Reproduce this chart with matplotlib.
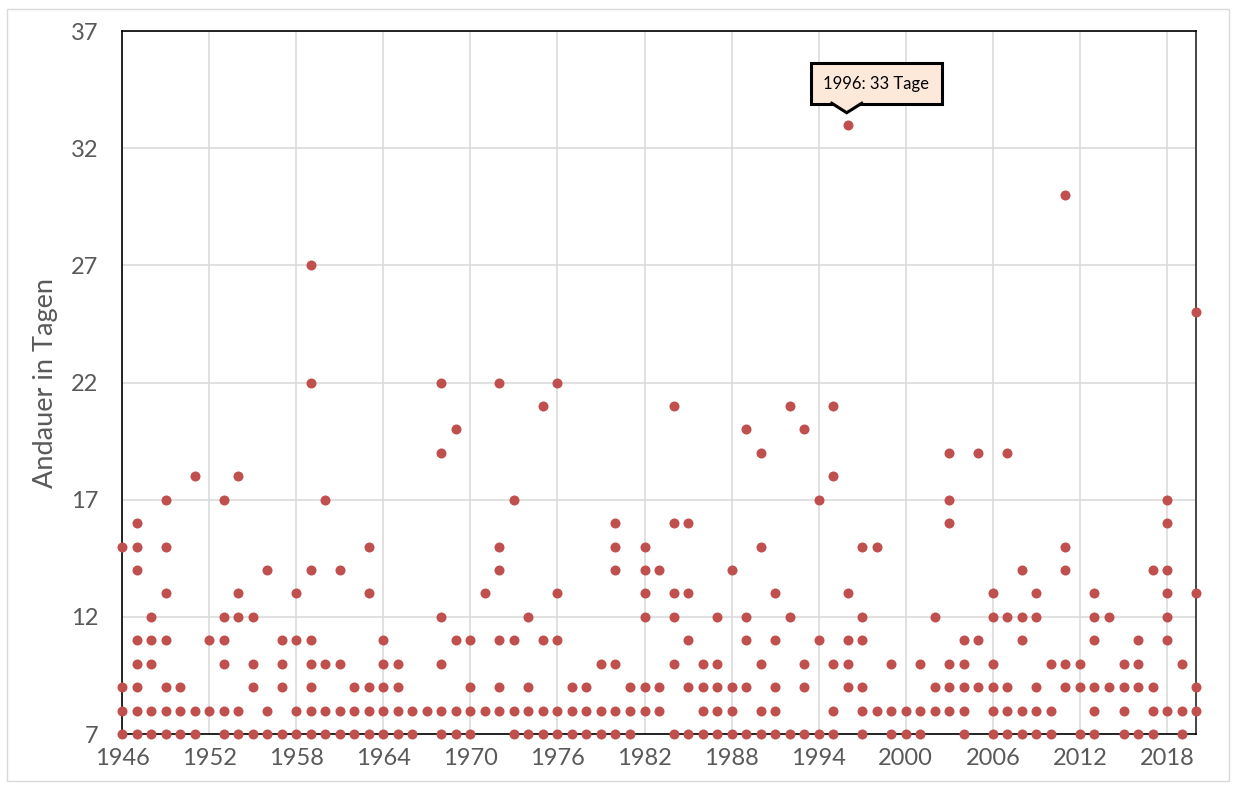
import numpy as np
import matplotlib
matplotlib.use("Agg")
import matplotlib.pyplot as plt
from matplotlib import transforms
from matplotlib.patches import Polygon, Rectangle

# Data: per year, the durations (days) of each event
years = list(range(1946, 2021))
durations = [
    [15, 9, 8, 7],                 # 1946
    [16, 15, 14, 11, 10, 9, 8, 7], # 1947
    [12, 11, 10, 8, 7],            # 1948
    [17, 15, 13, 11, 9, 8, 7],     # 1949
    [9, 8, 7],                     # 1950
    [18, 8, 7],                    # 1951
    [11, 8],                       # 1952
    [17, 12, 11, 10, 8, 7],        # 1953
    [18, 13, 12, 8, 7],            # 1954
    [12, 10, 9, 7],                # 1955
    [14, 8, 7],                    # 1956
    [11, 10, 9, 7],                # 1957
    [13, 11, 8, 7],                # 1958
    [27, 22, 14, 11, 10, 9, 8, 7], # 1959
    [17, 10, 8, 7],                # 1960
    [14, 10, 8, 7],                # 1961
    [9, 8, 7],                     # 1962
    [15, 13, 9, 8, 7],             # 1963
    [11, 10, 9, 8, 7],             # 1964
    [10, 9, 8, 7],                 # 1965
    [8, 7],                        # 1966
    [8],                           # 1967
    [22, 19, 12, 10, 8, 7],        # 1968
    [20, 11, 8, 7],                # 1969
    [11, 9, 8, 7],                 # 1970
    [13, 8],                       # 1971
    [22, 15, 14, 11, 9, 8],        # 1972
    [17, 11, 8, 7],                # 1973
    [12, 9, 8, 7],                 # 1974
    [21, 11, 8, 7],                # 1975
    [22, 13, 11, 8, 7],            # 1976
    [9, 8, 7],                     # 1977
    [9, 8, 7],                     # 1978
    [10, 8, 7],                    # 1979
    [16, 15, 14, 10, 8, 7],        # 1980
    [9, 8, 7],                     # 1981
    [15, 14, 13, 12, 9, 8],        # 1982
    [14, 9, 8],                    # 1983
    [21, 16, 13, 12, 10, 7],       # 1984
    [16, 13, 11, 9, 7],            # 1985
    [10, 9, 8, 7],                 # 1986
    [12, 10, 9, 8, 7],             # 1987
    [14, 9, 8, 7],                 # 1988
    [20, 12, 11, 9, 7],            # 1989
    [19, 15, 10, 8, 7],            # 1990
    [13, 11, 9, 8, 7],             # 1991
    [21, 12, 7],                   # 1992
    [20, 10, 9, 7],                # 1993
    [17, 11, 7],                   # 1994
    [21, 18, 10, 8, 7],            # 1995
    [33, 13, 11, 10, 9],           # 1996
    [15, 12, 11, 9, 8, 7],         # 1997
    [15, 8],                       # 1998
    [10, 8, 7],                    # 1999
    [8, 7],                        # 2000
    [10, 8, 7],                    # 2001
    [12, 9, 8],                    # 2002
    [19, 17, 16, 10, 9, 8],        # 2003
    [11, 10, 9, 8, 7],             # 2004
    [19, 11, 9],                   # 2005
    [13, 12, 10, 9, 8, 7],         # 2006
    [19, 12, 9, 8, 7],             # 2007
    [14, 12, 11, 8, 7],            # 2008
    [13, 12, 9, 8, 7],             # 2009
    [10, 8, 7],                    # 2010
    [30, 15, 14, 10, 9],           # 2011
    [10, 9, 7],                    # 2012
    [13, 12, 11, 9, 8, 7],         # 2013
    [12, 9],                       # 2014
    [10, 9, 8, 7],                 # 2015
    [11, 10, 9, 7],                # 2016
    [14, 9, 8, 7],                 # 2017
    [17, 16, 14, 13, 12, 11, 8],   # 2018
    [10, 8, 7],                    # 2019
    [25, 13, 9, 8],                # 2020
]
x_ticks = list(range(1946, 2021, 6))
y_ticks = list(range(7, 38, 5))
highlight_year = 1996
highlight_days = 33

plt.rcParams["font.family"] = ["Lato", "DejaVu Sans"]

x = np.repeat(years, [len(d) for d in durations])
y = np.concatenate([np.array(d) for d in durations])

fig = plt.figure(figsize=(12.36, 7.89), dpi=100)
ax = fig.add_axes([0.0987, 0.0697, 0.869, 0.891])

ax.scatter(x, y, s=52, c="#C0504D", linewidths=0, clip_on=False, zorder=4)

ax.set_xlim(1946, 2020)
ax.set_ylim(7, 37)
ax.set_xticks(x_ticks)
ax.set_yticks(y_ticks)
ax.grid(color="#D9D9D9", lw=1.1)
ax.set_axisbelow(True)
ax.tick_params(length=0, labelsize=17, colors="#595959")
ax.tick_params(axis="x", pad=10)
ax.tick_params(axis="y", pad=17)
for side in ["top", "left", "bottom"]:
    ax.spines[side].set_color("black")
    ax.spines[side].set_linewidth(1.2)
ax.spines["right"].set_color("#262626")
ax.spines["right"].set_linewidth(1.2)

ax.set_ylabel("Andauer in Tagen", fontsize=19.5, color="#595959", labelpad=9)

# Callout for the maximum
ax.annotate(f"{highlight_year}: {highlight_days} Tage",
            xy=(highlight_year, highlight_days), xytext=(20.5, 29.5),
            textcoords="offset points", ha="center", va="center",
            fontsize=12, color="black", zorder=6,
            bbox=dict(boxstyle="square,pad=0.75", fc="#FDE9DA", ec="black", lw=2.2))
anchor = fig.dpi_scale_trans + transforms.ScaledTranslation(
    highlight_year, highlight_days, ax.transData)
notch = Polygon([(-0.15, 0.225), (-0.01, 0.125), (0.13, 0.225)], closed=True,
                fc="#FDE9DA", ec="none", transform=anchor, zorder=7, clip_on=False)
ax.add_patch(notch)
ax.plot([-0.16, -0.01, 0.14], [0.215, 0.12, 0.215], color="black", lw=2.2,
        transform=anchor, clip_on=False, zorder=8, solid_joinstyle="miter")

fig.patches.append(Rectangle((0.006, 0.01), 0.988, 0.979, transform=fig.transFigure,
                             fill=False, ec="#D9D9D9", lw=1))

fig.savefig("out.png", dpi=100)
